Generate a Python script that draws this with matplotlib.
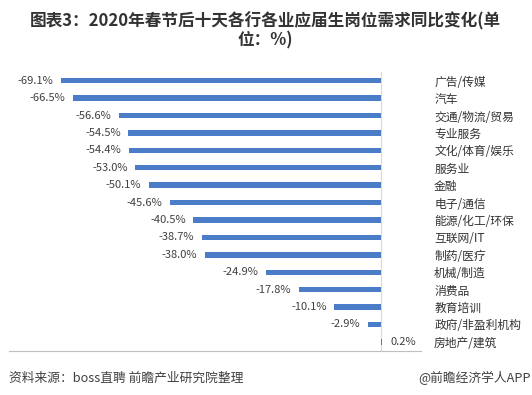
import matplotlib
matplotlib.use("Agg")
import matplotlib.pyplot as plt

plt.rcParams['font.family'] = ['Noto Sans CJK SC', 'DejaVu Sans']

# data, top to bottom as in the chart
industries = ['广告/传媒', '汽车', '交通/物流/贸易', '专业服务', '文化/体育/娱乐',
              '服务业', '金融', '电子/通信', '能源/化工/环保', '互联网/IT',
              '制药/医疗', '机械/制造', '消费品', '教育培训', '政府/非盈利机构',
              '房地产/建筑']
changes = [-69.1, -66.5, -56.6, -54.5, -54.4, -53.0, -50.1, -45.6, -40.5,
           -38.7, -38.0, -24.9, -17.8, -10.1, -2.9, 0.2]

title = '图表3：2020年春节后十天各行各业应届生岗位需求同比变化(单\n位：%)'
source = '资料来源：boss直聘 前瞻产业研究院整理'
brand = '@前瞻经济学人APP'

fig = plt.figure(figsize=(5.32, 3.95), dpi=100)
ax = fig.add_axes([0.016, 0.1124, 0.775, 0.7053])

ypos = list(range(len(industries)))
ax.barh(ypos, changes, height=0.31, color='#4a7cc8')
ax.set_ylim(len(industries) - 0.5, -0.5)
ax.set_xlim(-80.4, 8.6)

# value labels next to bar ends
for y, v in zip(ypos, changes):
    if v < 0:
        ax.annotate('%.1f%%' % v, (v, y), xytext=(-5.5, 0), textcoords='offset points',
                    ha='right', va='center', fontsize=8, color='#404040')
    else:
        ax.annotate('%.1f%%' % v, (v, y), xytext=(6, 0), textcoords='offset points',
                    ha='left', va='center', fontsize=8, color='#404040')

ax.axvline(0, color='#d9d9d9', lw=0.8, zorder=0)

ax.yaxis.tick_right()
ax.set_yticks(ypos)
ax.set_yticklabels(industries, fontsize=8.5, color='#333333')
ax.tick_params(axis='y', length=0, pad=9.6)
ax.set_xticks([])
for s in ['top', 'left', 'right']:
    ax.spines[s].set_visible(False)
ax.spines['bottom'].set_color('#bfbfbf')
ax.spines['bottom'].set_linewidth(0.8)

fig.text(0.498, 1 - 30.5 / 395, title, ha='center', va='center', fontsize=12,
         fontweight='bold', color='#333333', linespacing=1.05)
fig.text(0.016, 1 - 378 / 395, source, ha='left', va='center', fontsize=9.2,
         color='#404040')
fig.text(0.998, 1 - 378 / 395, brand, ha='right', va='center', fontsize=9.2,
         color='#404040')

fig.savefig('out.png', dpi=100, facecolor='white')
